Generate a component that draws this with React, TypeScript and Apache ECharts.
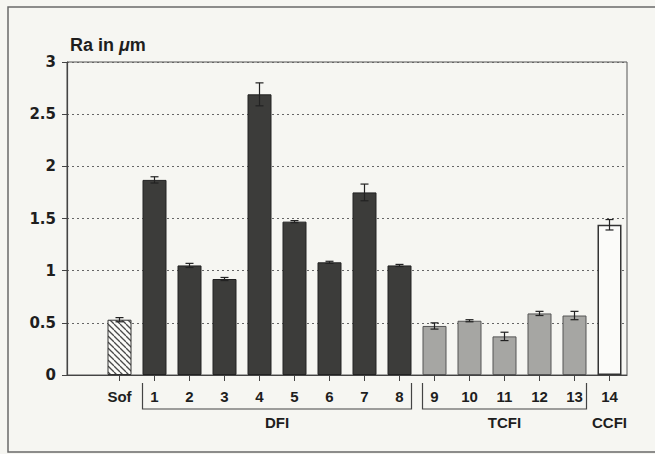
import React, { useEffect, useRef } from "react";
import * as echarts from "echarts";

const categories = ["", "Sof", "1", "2", "3", "4", "5", "6", "7", "8", "9", "10", "11", "12", "13", "14"];
const barLabels = ["Sof", "1", "2", "3", "4", "5", "6", "7", "8", "9", "10", "11", "12", "13", "14"];
const values = [0.53, 1.87, 1.05, 0.92, 2.69, 1.47, 1.08, 1.75, 1.05, 0.47, 0.52, 0.37, 0.59, 0.57, 1.44];
const errors = [0.02, 0.03, 0.02, 0.015, 0.11, 0.01, 0.01, 0.08, 0.01, 0.03, 0.01, 0.04, 0.02, 0.04, 0.05];
const groups = ["Sof", "DFI", "DFI", "DFI", "DFI", "DFI", "DFI", "DFI", "DFI", "TCFI", "TCFI", "TCFI", "TCFI", "TCFI", "CCFI"];
const groupSpans = [
  { name: "DFI", from: "1", to: "8", bracket: true },
  { name: "TCFI", from: "9", to: "13", bracket: true },
  { name: "CCFI", from: "14", to: "14", bracket: false },
];
const yMin = 0;
const yMax = 3;
const yStep = 0.5;
const yTitle = ["Ra in ", "μ", "m"];

const BAR_W = 24;

function hatchCanvas() {
  const c = document.createElement("canvas");
  c.width = 6;
  c.height = 6;
  const ctx = c.getContext("2d")!;
  ctx.fillStyle = "#fbfbf8";
  ctx.fillRect(0, 0, 6, 6);
  ctx.strokeStyle = "#4a4a4a";
  ctx.lineWidth = 1.3;
  for (const k of [-6, 0, 6]) {
    ctx.beginPath();
    ctx.moveTo(k, 0);
    ctx.lineTo(k + 6, 6);
    ctx.stroke();
  }
  return c;
}

export default function App() {
  const ref = useRef<HTMLDivElement>(null);
  useEffect(() => {
    if (!ref.current) return;
    const chart = echarts.init(ref.current, undefined, { renderer: "svg" });
    const hatch = hatchCanvas();
    const styleFor = (g: string) => {
      if (g === "Sof") return { color: { image: hatch, repeat: "repeat" } as any, borderColor: "#333", borderWidth: 1 };
      if (g === "DFI") return { color: "#3c3c3a", borderColor: "#222", borderWidth: 1 };
      if (g === "TCFI") return { color: "#a6a6a3", borderColor: "#555", borderWidth: 1 };
      return { color: "#fbfbf9", borderColor: "#333", borderWidth: 1.5 };
    };
    const barData = categories.map((c) => {
      const i = barLabels.indexOf(c);
      if (i < 0) return null;
      return { value: values[i], itemStyle: styleFor(groups[i]) };
    });
    const errData = barLabels.map((c, i) => [categories.indexOf(c), values[i] - errors[i], values[i] + errors[i]]);

    chart.setOption({
      animation: false,
      backgroundColor: "#f6f6f2",
      grid: { left: 67, right: 28, top: 62, bottom: 79, show: true, borderColor: "#555", borderWidth: 1, backgroundColor: "transparent" },
      xAxis: {
        type: "category",
        data: categories,
        axisLine: { show: true, lineStyle: { color: "#444", width: 1.2 } },
        axisTick: { show: true, alignWithLabel: true, length: 6, interval: (idx: number) => idx > 0, lineStyle: { color: "#444" } },
        axisLabel: { interval: 0, margin: 14, color: "#1e1e1e", fontFamily: "Liberation Sans", fontWeight: "bold", fontSize: 15 },
      },
      yAxis: {
        type: "value",
        min: yMin,
        max: yMax,
        interval: yStep,
        axisLine: { show: true, lineStyle: { color: "#444", width: 1.2 } },
        axisTick: { show: true, length: 5, lineStyle: { color: "#444" } },
        axisLabel: { margin: 11, color: "#1e1e1e", fontFamily: "DejaVu Sans", fontWeight: "bold", fontSize: 15, formatter: (v: number) => String(v) },
        splitLine: { show: true, lineStyle: { color: "#666", type: [2, 3], width: 1 } },
      },
      series: [
        { type: "bar", data: barData, barWidth: BAR_W, z: 2 },
        {
          type: "custom",
          data: errData,
          z: 3,
          renderItem: (params: any, api: any) => {
            const x = api.value(0);
            const lo = api.coord([x, api.value(1)]);
            const hi = api.coord([x, api.value(2)]);
            const hw = 4;
            const st = { stroke: "#222", lineWidth: 1.2 };
            return {
              type: "group",
              children: [
                { type: "line", shape: { x1: hi[0], y1: hi[1], x2: lo[0], y2: lo[1] }, style: st },
                { type: "line", shape: { x1: hi[0] - hw, y1: hi[1], x2: hi[0] + hw, y2: hi[1] }, style: st },
                { type: "line", shape: { x1: lo[0] - hw, y1: lo[1], x2: lo[0] + hw, y2: lo[1] }, style: st },
              ],
            };
          },
        },
      ],
    });

    const px = (c: string) => chart.convertToPixel({ xAxisIndex: 0 }, c) as number;
    const y0 = chart.convertToPixel({ yAxisIndex: 0 }, 0) as number;
    const graphics: any[] = [
      { type: "rect", shape: { x: 8, y: 7, width: 700, height: 445 }, style: { fill: "none", stroke: "#6a6a6a", lineWidth: 1.5 }, silent: true },
      {
        type: "text",
        x: 70,
        y: 45,
        style: {
          text: `{a|${yTitle[0]}}{b|${yTitle[1]}}{a|${yTitle[2]}}`,
          verticalAlign: "middle",
          rich: {
            a: { fontFamily: "Liberation Sans", fontWeight: "bold", fontSize: 18, fill: "#1e1e1e" },
            b: { fontFamily: "Liberation Sans", fontWeight: "bold", fontStyle: "italic", fontSize: 18, fill: "#1e1e1e" },
          },
        },
      },
    ];
    groupSpans.forEach((g) => {
      const xl = px(g.from) - BAR_W / 2;
      const xr = px(g.to) + BAR_W / 2;
      if (g.bracket) {
        graphics.push({
          type: "polyline",
          shape: { points: [[xl, y0 + 8], [xl, y0 + 34], [xr, y0 + 34], [xr, y0 + 8]] },
          style: { fill: "none", stroke: "#444", lineWidth: 1.2 },
        });
      }
      graphics.push({
        type: "text",
        x: (xl + xr) / 2,
        y: y0 + 47,
        style: { text: g.name, align: "center", verticalAlign: "middle", fontFamily: "Liberation Sans", fontWeight: "bold", fontSize: 15, fill: "#1e1e1e" },
      });
    });
    chart.setOption({ graphic: graphics });

    return () => chart.dispose();
  }, []);
  return <div ref={ref} style={{ position: "fixed", left: 0, top: 0, width: 655, height: 454 }} />;
}
